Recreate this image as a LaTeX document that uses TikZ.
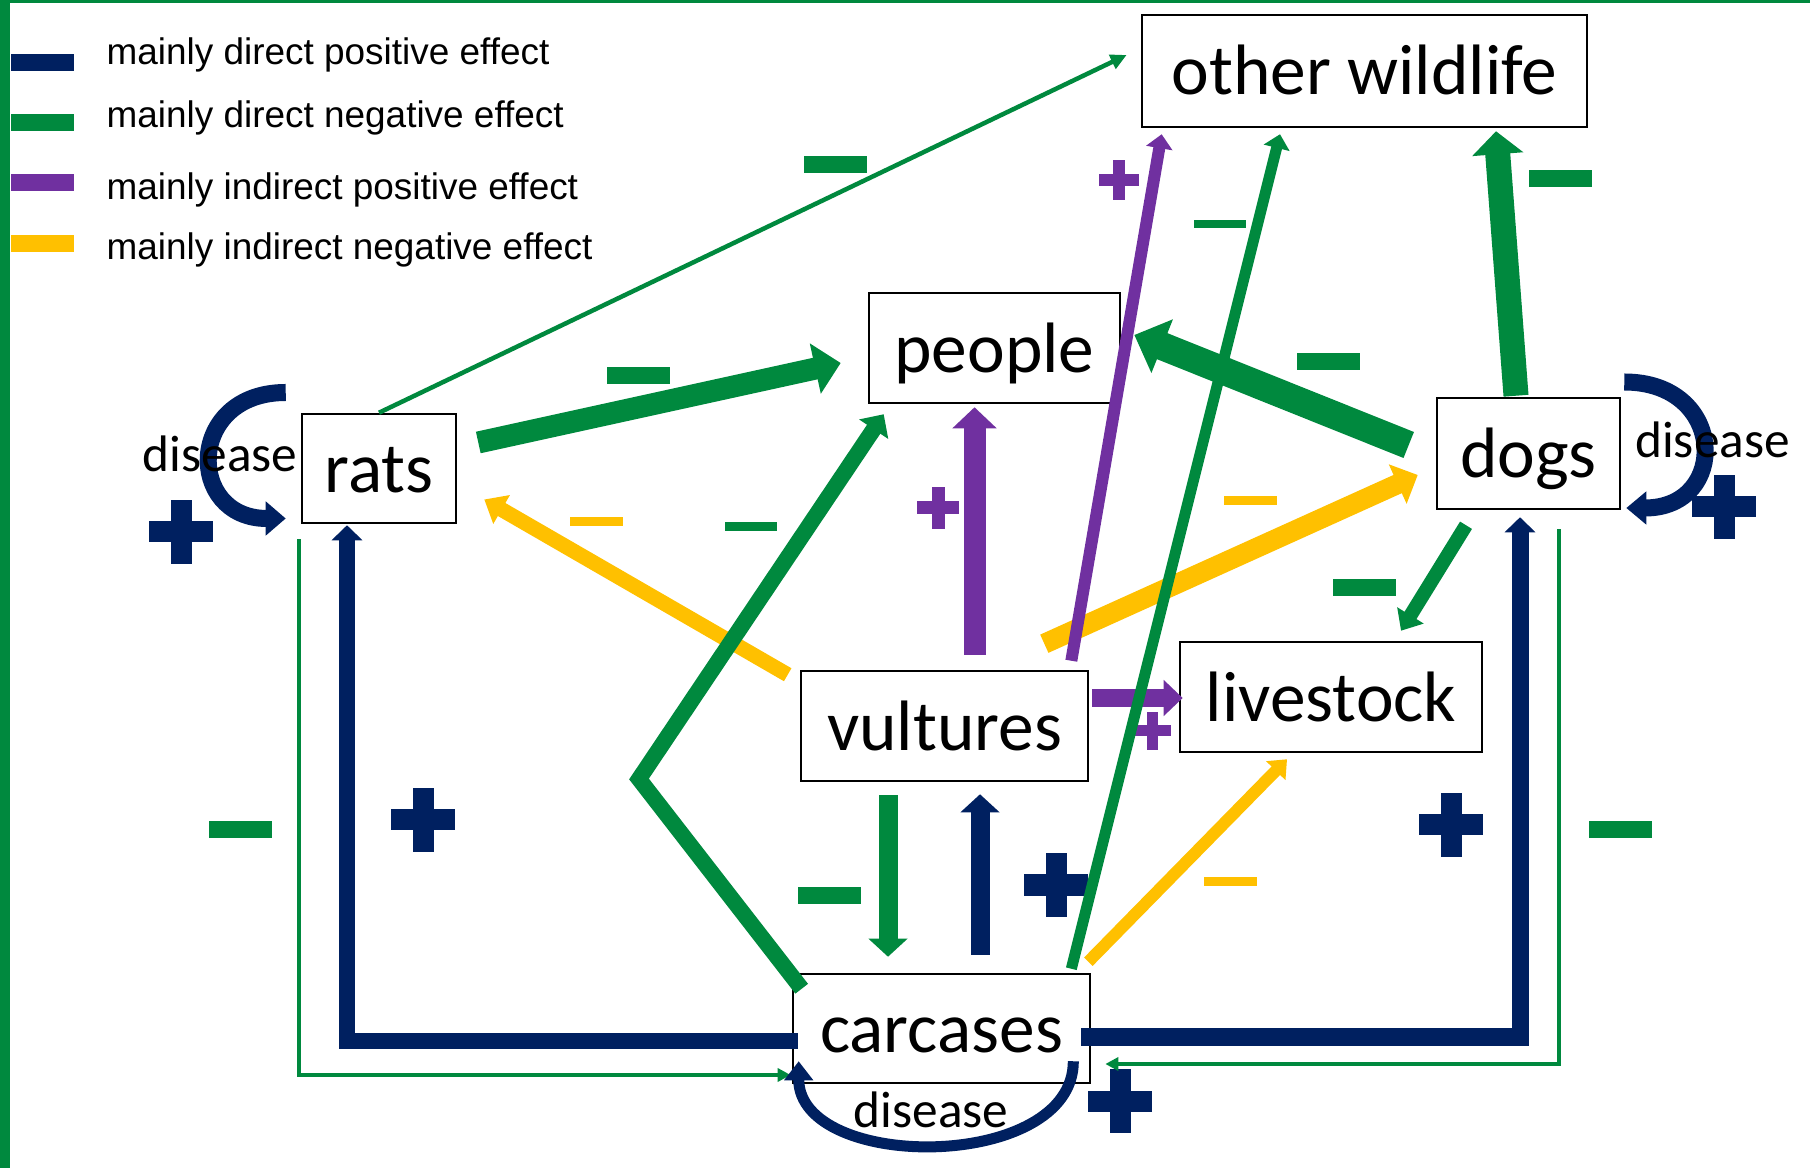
\documentclass[tikz,border=0pt]{standalone}
\usepackage{fontspec}
\setmainfont{Carlito}
\newfontfamily\keyfont{Liberation Sans}
\usetikzlibrary{calc,arrows.meta}
\definecolor{DirPos}{RGB}{0,32,96}
\definecolor{DirNeg}{RGB}{0,137,62}
\definecolor{IndPos}{RGB}{112,48,160}
\definecolor{IndNeg}{RGB}{255,192,0}

\tikzset{
    pics/plussign/.style n args={3}{code={
        \fill[#3] (-#1/2,-#2/2) rectangle (#1/2,#2/2);
        \fill[#3] (-#2/2,-#1/2) rectangle (#2/2,#1/2);
    }},
    pics/minussign/.style n args={3}{code={
        \fill[#3] (-#1/2,-#2/2) rectangle (#1/2,#2/2);
    }}
}

\begin{document}
\begin{tikzpicture}[
    x=0.01cm, y=-0.01cm,
    box/.style={
        draw,
        line width=0.7pt,
        inner sep=0pt,
        font=\fontsize{20.3}{24}\selectfont,
        text height=0.58cm,
        text depth=0.1cm
    },
    lbl/.style={font=\fontsize{14.6}{17}\selectfont, anchor=base, inner sep=0pt},
    keytext/.style={font=\keyfont\fontsize{10.5}{12}\selectfont, anchor=base west, inner sep=0pt},
    swatch/.style={minimum width=0.63cm, minimum height=0.17cm, inner sep=0pt},
    arrowtip/.style 2 args={-{Triangle[length=#1,width=#2]}},
    dpos/.style={draw=DirPos},
    dneg/.style={draw=DirNeg},
    ipos/.style={draw=IndPos},
    ineg/.style={draw=IndNeg}
]
\useasboundingbox (0,0) rectangle (1810,1168);
\fill[DirNeg] (0,0) rectangle (1810,3.5);
\fill[DirNeg] (0,0) rectangle (9.5,1168);

\node[swatch, fill=DirPos] (kpos) at (42.5,62.5) {};
\node[swatch, fill=DirNeg] (kneg) at (42.5,123) {};
\node[swatch, fill=IndPos] (kipos) at (42.5,183) {};
\node[swatch, fill=IndNeg] (kineg) at (42.5,243.5) {};
\node[keytext] (tpos) at (106,65) {mainly direct positive effect};
\node[keytext] (tneg) at (106,128) {mainly direct negative effect};
\node[keytext] (tipos) at (106,200) {mainly indirect positive effect};
\node[keytext] (tineg) at (106,260) {mainly indirect negative effect};

\node[box, minimum width=4.45cm, minimum height=1.12cm] (wild) at (1364.5,71) {other wildlife};
\node[box, minimum width=2.51cm, minimum height=1.10cm] (people) at (994.5,348) {people};
\node[box, minimum width=1.54cm, minimum height=1.09cm] (rats) at (379,468.5) {rats};
\node[box, minimum width=1.83cm, minimum height=1.11cm] (dogs) at (1528.5,453.5) {dogs};
\node[box, minimum width=2.87cm, minimum height=1.10cm] (vult) at (944.5,726) {vultures};
\node[box, minimum width=3.02cm, minimum height=1.10cm] (stock) at (1331,697) {livestock};
\node[box, minimum width=2.97cm, minimum height=1.09cm] (carc) at (941.5,1028.5) {carcases};

\foreach \px/\py in {181/532, 1724/507, 1120/1101, 423/820, 1451/825, 1056/885}
    \pic at (\px,\py) {plussign={64}{21}{DirPos}};
\pic at (938,508) {plussign={42}{13}{IndPos}};
\pic at (1119,180) {plussign={40}{12}{IndPos}};
\pic at (1152,731) {plussign={38}{11}{IndPos}};
\foreach \px/\py in {835/165, 638/376, 240/830, 829/895, 1620/830, 1364/588, 1328/362, 1560/179}
    \pic at (\px,\py) {minussign={63}{17}{DirNeg}};
\pic at (751,527) {minussign={52}{9}{DirNeg}};
\pic at (1220,224) {minussign={52}{8}{DirNeg}};
\foreach \px/\py in {596/522, 1230/881, 1250/501}
    \pic at (\px,\py) {minussign={53}{9}{IndNeg}};

\coordinate (kink) at (639,779);

\draw[dneg, line width=0.045cm, arrowtip={0.16cm}{0.15cm}] (rats.north) -- ($(wild.west)+(-14,-16)$);
\draw[dneg, line width=0.22cm, arrowtip={0.26cm}{0.50cm}] ($(rats.east)+(21,-26)$) -- ($(people.west)+(-27,15)$);
\draw[ineg, line width=0.15cm, arrowtip={0.20cm}{0.32cm}] ($(vult.north west)+(-12,5)$) -- ($(rats.east)+(27,31)$);
\draw[dneg, line width=0.16cm, arrowtip={0.18cm}{0.34cm}] ($(carc.north west)+(10,16)$) -- (kink) -- ($(people.south west)+(16,10)$);
\draw[ipos, line width=0.22cm, arrowtip={0.21cm}{0.43cm}] ($(vult.north)+(30,-15)$) -- ($(people.south)+(-20,3)$);
\draw[ineg, line width=0.20cm, arrowtip={0.22cm}{0.42cm}] ($(vult.north east)+(-45,-26)$) -- ($(dogs.west)+(-18,21.5)$);
\draw[ipos, line width=0.17cm, arrowtip={0.19cm}{0.35cm}] ($(vult.east)+(3,-28)$) -- ($(stock.west)+(4,1)$);
\draw[dneg, line width=0.19cm, arrowtip={0.18cm}{0.38cm}] ($(vult.south)+(-56.5,13)$) -- ($(carc.north)+(-53.5,-16)$);
\draw[dpos, line width=0.19cm, arrowtip={0.18cm}{0.38cm}] ($(carc.north)+(38.5,-18)$) -- ($(vult.south)+(35.5,12)$);
\draw[ineg, line width=0.12cm, arrowtip={0.16cm}{0.26cm}] ($(carc.north east)+(-3,-11)$) -- ($(stock.south)+(-44,6)$);
\draw[dpos, line width=0.16cm, arrowtip={0.15cm}{0.30cm}] ($(carc.west)+(6,12.5)$) -| ($(rats.south)+(-32,1)$);
\draw[dpos, line width=0.17cm, arrowtip={0.15cm}{0.30cm}] ($(carc.east)+(-10,8.5)$) -| ($(dogs.south)+(-8.5,7)$);
\draw[dneg, line width=0.04cm, arrowtip={0.13cm}{0.13cm}] ($(rats.south west)+(-2,15)$) |- ($(carc.west)+(-1,46.5)$);
\draw[dneg, line width=0.04cm, arrowtip={0.13cm}{0.13cm}] ($(dogs.south east)+(-62,19)$) |- ($(carc.east)+(14,35.5)$);
\draw[dneg, line width=0.28cm, arrowtip={0.30cm}{0.56cm}] ($(dogs.west)+(-27,-8.5)$) -- ($(people.east)+(13,-13)$);
\draw[dneg, line width=0.25cm, arrowtip={0.23cm}{0.50cm}] ($(dogs.north)+(-12.5,-1)$) -- ($(wild.south)+(131.5,3)$);
\draw[dneg, line width=0.14cm, arrowtip={0.18cm}{0.30cm}] ($(dogs.south)+(-62.5,15)$) -- ($(stock.north)+(70,-10)$);
\draw[ipos, line width=0.12cm, arrowtip={0.14cm}{0.26cm}] ($(vult.north east)+(-18,-9)$) -- ($(wild.south west)+(21,6)$);
\draw[dneg, line width=0.11cm, arrowtip={0.14cm}{0.26cm}] ($(carc.north east)+(-20,-4)$) -- ($(wild.south)+(-84.5,6)$);

\draw[dpos, line width=0.17cm, arrowtip={0.20cm}{0.33cm}] ($(rats.west)+(-15,-76)$) .. controls +(-100,0) and +(-100,0) .. ($(rats.west)+(-15,50)$);
\draw[dpos, line width=0.17cm, arrowtip={0.20cm}{0.32cm}] ($(dogs.east)+(3,-71.5)$) .. controls +(103,0) and +(103,0) .. ($(dogs.east)+(5,54.5)$);
\draw[dpos, line width=0.11cm, arrowtip={0.19cm}{0.28cm}] ($(carc.south east)+(-18,-23)$) .. controls +(0,111) and +(0,111) .. ($(carc.south west)+(7,-23)$);

\node[lbl] (disrats) at (220,472) {disease};
\node[lbl] (disdogs) at (1712.5,458) {disease};
\node[lbl] (discarc) at (931,1127) {disease};
\end{tikzpicture}
\end{document}
